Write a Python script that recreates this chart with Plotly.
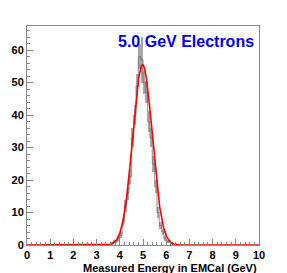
import numpy as np
import plotly.graph_objects as go

bin_centers = [3.65, 3.75, 3.85, 3.95, 4.05, 4.15, 4.25, 4.35, 4.45, 4.55, 4.65, 4.75, 4.85, 4.95,
               5.05, 5.15, 5.25, 5.35, 5.45, 5.55, 5.65, 5.75, 5.85, 5.95, 6.05, 6.15, 6.25]
counts = [0.5, 1, 1, 2, 3, 7, 12, 16, 21, 33, 40, 49, 58, 57,
          50, 47, 38, 33, 25, 18, 10, 6, 4, 2, 1, 1, 0.5]
errors = [0.4, 0.5, 0.5, 0.7, 0.9, 1.3, 1.7, 2.0, 2.3, 2.9, 3.2, 3.5, 3.8, 7.0,
          3.5, 3.4, 3.1, 2.9, 2.5, 2.1, 1.6, 1.2, 1.0, 0.7, 0.5, 0.5, 0.4]

fit_amp = 55.5
fit_mean = 4.98
fit_sigma = 0.42

x_ticks = [0, 1, 2, 3, 4, 5, 6, 7, 8, 9, 10]
y_ticks = [0, 10, 20, 30, 40, 50, 60]

title_text = "5.0 GeV Electrons"
x_title = "Measured Energy in EMCal (GeV)"

fig = go.Figure()

base = [c - e for c, e in zip(counts, errors)]
height = [2 * e for e in errors]
fig.add_trace(go.Bar(x=bin_centers, y=height, base=base, width=0.1,
                     marker=dict(color="#a8a8a8", line=dict(width=0)), showlegend=False))

step_x = [3.6] + bin_centers + [6.3]
step_y = [0] + counts + [0]
fig.add_trace(go.Scatter(x=step_x, y=step_y, mode="lines", line=dict(shape="hvh", color="#666666", width=0.7),
                         showlegend=False))

xf = np.linspace(0, 10, 801)
yf = fit_amp * np.exp(-0.5 * ((xf - fit_mean) / fit_sigma) ** 2)
fig.add_trace(go.Scatter(x=xf, y=yf, mode="lines", line=dict(color="#ff0000", width=1.6), showlegend=False))

font_fam = "Liberation Sans, Arial, sans-serif"
fig.update_layout(
    width=287, height=273,
    margin=dict(l=27, r=28, t=26, b=28, autoexpand=False),
    paper_bgcolor="white", plot_bgcolor="white",
    bargap=0,
    xaxis=dict(range=[0, 10], tickvals=x_ticks, ticktext=[str(v) for v in x_ticks],
               automargin=False,
               ticks="inside", ticklen=6, tickcolor="#888888", tickwidth=1,
               minor=dict(dtick=0.2, ticks="inside", ticklen=3, tickcolor="#888888"),
               showgrid=False, zeroline=False, showline=True, linecolor="#888888", mirror=True,
               tickfont=dict(family=font_fam, size=11, color="black", weight="bold")),
    yaxis=dict(range=[0, 67.4], tickvals=y_ticks, ticktext=[str(v) for v in y_ticks],
               automargin=False,
               ticks="inside", ticklen=6, tickcolor="#888888", tickwidth=1,
               minor=dict(dtick=2, ticks="inside", ticklen=3, tickcolor="#888888"),
               showgrid=False, zeroline=False, showline=True, linecolor="#888888", mirror=True,
               tickfont=dict(family=font_fam, size=11, color="black", weight="bold")),
    annotations=[
        dict(text=title_text, xref="paper", yref="paper", x=0.985, y=0.975, xanchor="right", yanchor="top",
             showarrow=False, font=dict(family=font_fam, size=16, color="#0000ee", weight="bold")),
        dict(text=x_title, xref="paper", yref="paper", x=1.0, y=-0.068, xanchor="right", yanchor="top",
             showarrow=False, font=dict(family=font_fam, size=11, color="black", weight="bold")),
    ],
)

fig.write_html("out.html", config={"displayModeBar": False},
               post_script="document.body.style.margin='0';document.body.style.overflow='hidden';")
